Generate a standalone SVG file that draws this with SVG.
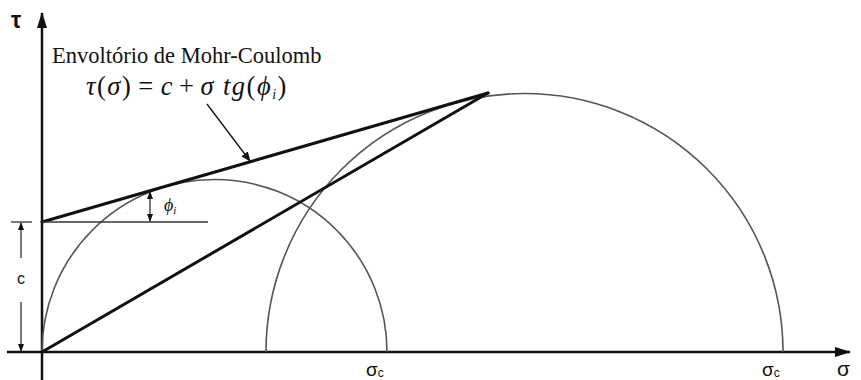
<svg xmlns="http://www.w3.org/2000/svg" width="861" height="380" viewBox="0 0 861 380">
<style>
.ax{stroke:#111;stroke-width:2.5;fill:none}
.thick{stroke:#111;stroke-width:3;fill:none;stroke-linecap:round}
.arc{stroke:#555;stroke-width:1.6;fill:none}
.thin{stroke:#333;stroke-width:1.3;fill:none}
.serif{font-family:"Liberation Serif","Times New Roman",serif;fill:#111}
.sans{font-family:"Liberation Sans",Arial,sans-serif;fill:#111}
</style>
<defs>
<marker id="ah" markerWidth="10" markerHeight="10" refX="9" refY="5" orient="auto" markerUnits="userSpaceOnUse">
<path d="M0,1 L10,5 L0,9 Z" fill="#111"/>
</marker>
<marker id="axh" markerWidth="16" markerHeight="12" refX="15" refY="6" orient="auto" markerUnits="userSpaceOnUse">
<path d="M0,1 L16,6 L0,11 Z" fill="#111"/>
</marker>
<marker id="sm" markerWidth="8" markerHeight="8" refX="7" refY="4" orient="auto-start-reverse" markerUnits="userSpaceOnUse">
<path d="M0,1 L8,4 L0,7 Z" fill="#111"/>
</marker>
</defs>
<rect width="861" height="380" fill="#fff"/>
<g id="axes">
<line class="ax" x1="42" y1="380" x2="42" y2="13" marker-end="url(#axh)"/>
<line class="ax" x1="7" y1="352" x2="850" y2="352" marker-end="url(#axh)"/>
<text class="sans" x="11" y="28" font-size="23" font-weight="bold">τ</text>
<text class="sans" x="837" y="376" font-size="21">σ</text>
</g>
<g id="circle-small">
<path class="arc" d="M42,352 A172.5,172.5 0 0 1 387,352"/>
<text class="sans" x="366" y="376" font-size="19">σ<tspan font-size="12" dy="1">c</tspan></text>
</g>
<g id="circle-large">
<path class="arc" d="M266,352 A258.5,258.5 0 0 1 783,352"/>
<text class="sans" x="762" y="376" font-size="19">σ<tspan font-size="12" dy="1">c</tspan></text>
</g>
<g id="connectors">
<line class="thick" x1="42" y1="222" x2="488" y2="93"/>
<line class="thick" x1="42" y1="352" x2="488" y2="93"/>
<line class="thin" x1="42" y1="222" x2="208" y2="222"/>
<line class="thin" x1="11" y1="222" x2="32" y2="222"/>
<line class="thin" x1="21" y1="258" x2="21" y2="223" marker-end="url(#sm)"/>
<line class="thin" x1="21" y1="302" x2="21" y2="351" marker-end="url(#sm)"/>
<line class="thin" x1="150" y1="192" x2="150" y2="221" marker-start="url(#sm)" marker-end="url(#sm)"/>
<line stroke="#111" stroke-width="1.3" x1="207" y1="104" x2="250" y2="161" marker-end="url(#ah)"/>
</g>
<g id="labels">
<text class="sans" x="21" y="284" font-size="16" text-anchor="middle">c</text>
<text class="serif" x="164" y="211" font-size="18" font-style="italic">ϕ<tspan font-size="11" dy="3">i</tspan></text>
<text class="serif" x="52" y="63" font-size="22.5">Envoltório de Mohr-Coulomb</text>
<text class="serif" x="86" y="95" font-size="26.5" letter-spacing="1.5"><tspan font-style="italic">τ</tspan>(<tspan font-style="italic">σ</tspan>)<tspan dx="6">=</tspan><tspan dx="6" font-style="italic">c</tspan><tspan dx="5">+</tspan><tspan dx="5" font-style="italic">σ</tspan><tspan dx="8" font-style="italic">tg</tspan>(<tspan font-style="italic">ϕ<tspan font-size="14" dy="4">i</tspan></tspan><tspan dy="-4">)</tspan></text>
</g>
</svg>
